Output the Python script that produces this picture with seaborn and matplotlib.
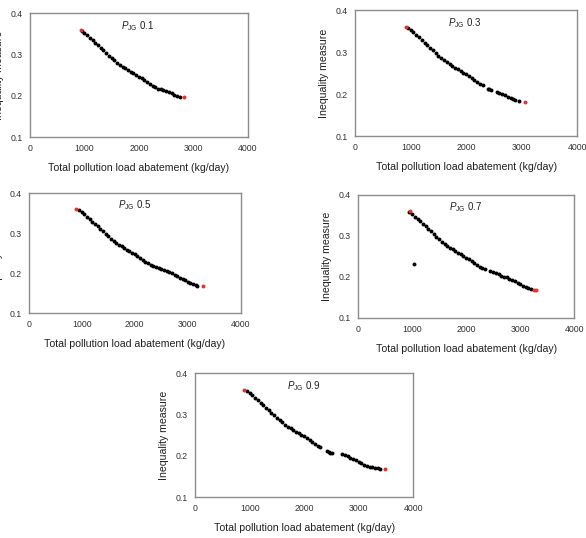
import numpy as np
import pandas as pd
import matplotlib
matplotlib.use("Agg")
import matplotlib.pyplot as plt
import seaborn as sns

# Shared first part of each front (kg/day vs inequality)
x_head = [950, 1000, 1050, 1100, 1150, 1200, 1250, 1300, 1350, 1400, 1450, 1500,
          1550, 1600, 1650, 1700, 1750, 1800, 1850, 1900, 1950, 2000, 2050, 2100,
          2150, 2200, 2250, 2300]
y_head = [0.357, 0.352, 0.347, 0.341, 0.335, 0.329, 0.323, 0.317, 0.311, 0.305, 0.298, 0.292,
          0.286, 0.281, 0.276, 0.271, 0.267, 0.263, 0.259, 0.255, 0.251, 0.247, 0.243, 0.238,
          0.234, 0.229, 0.225, 0.221]

# Tails per P_JG weight
x_tail_01 = [2350, 2400, 2450, 2500, 2550, 2600, 2650, 2700, 2750]
y_tail_01 = [0.218, 0.216, 0.214, 0.212, 0.209, 0.206, 0.203, 0.200, 0.198]

x_tail_03 = [2400, 2420, 2450, 2550, 2600, 2650, 2700, 2750, 2800, 2850, 2880, 2950]
y_tail_03 = [0.213, 0.212, 0.210, 0.206, 0.203, 0.200, 0.197, 0.194, 0.191, 0.188, 0.186, 0.184]

x_tail_05 = [2350, 2400, 2450, 2500, 2550, 2600, 2650, 2700, 2750, 2800, 2850, 2900,
             2950, 3000, 3050, 3100, 3150, 3180]
y_tail_05 = [0.217, 0.215, 0.213, 0.211, 0.209, 0.206, 0.203, 0.200, 0.196, 0.192, 0.189, 0.185,
             0.182, 0.178, 0.175, 0.172, 0.170, 0.169]

x_tail_07 = [1030, 2350, 2450, 2500, 2550, 2600, 2650, 2700, 2750, 2800, 2850, 2900,
             2950, 3000, 3050, 3100, 3150, 3200]
y_tail_07 = [0.232, 0.219, 0.214, 0.212, 0.209, 0.206, 0.203, 0.200, 0.199, 0.196, 0.193, 0.189,
             0.186, 0.183, 0.179, 0.176, 0.172, 0.170]

x_tail_09 = [2420, 2450, 2480, 2510, 2700, 2750, 2800, 2850, 2900, 2950, 3000, 3050,
             3100, 3150, 3200, 3250, 3300, 3350, 3400]
y_tail_09 = [0.212, 0.210, 0.208, 0.206, 0.205, 0.202, 0.199, 0.195, 0.192, 0.189, 0.186, 0.182,
             0.179, 0.176, 0.174, 0.172, 0.171, 0.170, 0.169]

# Red end points
x_end_01, y_end_01 = [930, 2830], [0.360, 0.197]
x_end_03, y_end_03 = [910, 3060], [0.360, 0.182]
x_end_05, y_end_05 = [900, 3280], [0.360, 0.168]
x_end_07, y_end_07 = [960, 3250, 3290], [0.360, 0.168, 0.168]
x_end_09, y_end_09 = [900, 3480], [0.360, 0.168]

labels = ["0.1", "0.3", "0.5", "0.7", "0.9"]
tails = [(x_tail_01, y_tail_01), (x_tail_03, y_tail_03), (x_tail_05, y_tail_05),
         (x_tail_07, y_tail_07), (x_tail_09, y_tail_09)]
ends = [(x_end_01, y_end_01), (x_end_03, y_end_03), (x_end_05, y_end_05),
        (x_end_07, y_end_07), (x_end_09, y_end_09)]

sns.set_style("white")
plt.rcParams['font.family'] = ['Liberation Sans', 'DejaVu Sans']
plt.rcParams['mathtext.fontset'] = 'custom'
plt.rcParams['mathtext.rm'] = 'Liberation Sans'
plt.rcParams['mathtext.it'] = 'Liberation Sans:italic'

fig = plt.figure(figsize=(5.86, 5.38), dpi=100)

# axes boxes in figure fraction: left, bottom, width, height
boxes = [
    [0.051, 0.745, 0.372, 0.230],
    [0.606, 0.747, 0.379, 0.234],
    [0.049, 0.418, 0.362, 0.223],
    [0.611, 0.409, 0.369, 0.229],
    [0.333, 0.076, 0.372, 0.230],
]

for box, lab, (xt, yt), (xe, ye) in zip(boxes, labels, tails, ends):
    ax = fig.add_axes(box)
    df = pd.DataFrame({"x": x_head + xt, "y": y_head + yt})
    de = pd.DataFrame({"x": xe, "y": ye})
    sns.scatterplot(data=df, x="x", y="y", ax=ax, color="black", s=8,
                    linewidth=0, marker="o")
    sns.scatterplot(data=de, x="x", y="y", ax=ax, color="#e8302a", s=8,
                    linewidth=0, marker="o")
    ax.set_xlim(0, 4000)
    ax.set_ylim(0.1, 0.4)
    ax.set_xticks([0, 1000, 2000, 3000, 4000])
    ax.set_yticks([0.1, 0.2, 0.3, 0.4])
    ax.set_yticklabels(["0.1", "0.2", "0.3", "0.4"])
    ax.tick_params(length=0, labelsize=6.3, pad=5, colors="#333333")
    for sp in ax.spines.values():
        sp.set_color("#8c8c8c")
        sp.set_linewidth(1.0)
    ax.set_xlabel("Total pollution load abatement (kg/day)", fontsize=7.6,
                  color="#222222", labelpad=7)
    ax.set_ylabel("Inequality measure", fontsize=7.6, color="#222222", labelpad=5)
    ax.text(0.42, 0.9, r"$P_{\mathrm{JG}}$ " + lab, transform=ax.transAxes,
            fontsize=7, color="#222222", va="center")

fig.savefig("out.png", dpi=100)
